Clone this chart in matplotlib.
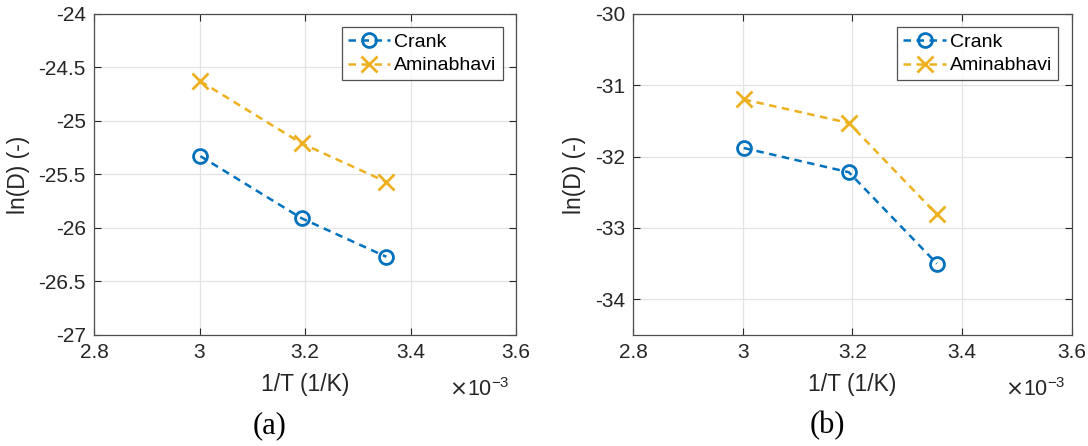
import matplotlib.pyplot as plt

plt.rcParams['font.family'] = ['Liberation Sans', 'DejaVu Sans']

# 1/T in units of 1e-3 1/K
inv_T = [3.0017, 3.1934, 3.3540]

crank_a = [-25.33, -25.91, -26.27]
amin_a = [-24.63, -25.21, -25.57]
crank_b = [-31.88, -32.22, -33.50]
amin_b = [-31.20, -31.53, -32.81]

xticks = [2.8, 3.0, 3.2, 3.4, 3.6]
xtick_labels = ['2.8', '3', '3.2', '3.4', '3.6']
yticks_a = [-24, -24.5, -25, -25.5, -26, -26.5, -27]
yticks_b = [-30, -31, -32, -33, -34]

blue = '#0072BD'
gold = '#EDB120'
edge = '#4d4d4d'

fig = plt.figure(figsize=(10.88, 4.46), dpi=100)
ax_a = fig.add_axes([0.0864, 0.249, 0.388, 0.720])
ax_b = fig.add_axes([0.582, 0.249, 0.403, 0.720])

panels = [
    (ax_a, crank_a, amin_a, yticks_a, (-27, -24), '(a)', 0.248),
    (ax_b, crank_b, amin_b, yticks_b, (-34.5, -30), '(b)', 0.760),
]

for ax, crank, amin, yt, ylim, cap, cx in panels:
    ax.plot(inv_T, crank, linestyle='--', color=blue, lw=1.8, marker='o',
            ms=10, mfc='none', mew=2, label='Crank', dashes=(3, 2.2))
    ax.plot(inv_T, amin, linestyle='--', color=gold, lw=1.8, marker='x',
            ms=11, mew=2, label='Aminabhavi', dashes=(3, 2.2))
    ax.set_xlim(2.8, 3.6)
    ax.set_ylim(*ylim)
    ax.set_xticks(xticks)
    ax.set_xticklabels(xtick_labels)
    ax.set_yticks(yt)
    ax.set_yticklabels([f'{v:g}' for v in yt])
    ax.grid(True, color='#e3e3e3', lw=0.9)
    ax.tick_params(direction='in', top=True, right=True, length=5,
                   color='#262626', labelsize=15, pad=6, labelcolor='#262626')
    for s in ax.spines.values():
        s.set_color(edge)
        s.set_linewidth(0.9)
    ax.set_xlabel('1/T (1/K)', fontsize=16.5, color='#262626', labelpad=8)
    ax.set_ylabel('ln(D) (-)', fontsize=16.5, color='#262626', labelpad=6)
    ax.text(0.985, -0.17, r'$\times$10$^{\mathregular{-3}}$', transform=ax.transAxes,
            ha='right', va='center', fontsize=15.5, color='#262626')
    leg = ax.legend(loc='upper right', fontsize=14, frameon=True, fancybox=False,
                    borderpad=0.3, handlelength=2.2, handletextpad=0.2,
                    labelspacing=0.3, borderaxespad=0.7)
    leg.get_frame().set_edgecolor('#262626')
    leg.get_frame().set_linewidth(0.9)
    fig.text(cx, 0.045, cap, ha='center', va='center', fontsize=22,
             family='Liberation Serif')

fig.savefig('out.png', dpi=100)
